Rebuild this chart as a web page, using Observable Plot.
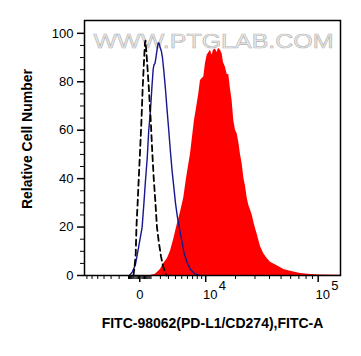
<!DOCTYPE html>
<html>
<head>
<meta charset="utf-8">
<script src="https://cdn.jsdelivr.net/npm/d3@7"></script>
<script src="https://cdn.jsdelivr.net/npm/@observablehq/plot@0.6"></script>
<style>
  html, body { margin: 0; padding: 0; background: #fff; }
  #chart { width: 361px; height: 356px; }
</style>
</head>
<body>
<div id="chart"></div>
<script>
// ---- Data ----
// Red filled histogram: FITC-98062 (PD-L1/CD274) stained sample
const redX = [948, 1456, 2010, 2403, 2872, 3276, 3743, 4256, 4783, 5341, 5823, 6193, 6578, 6976, 7390, 7817, 8327, 8718, 9192, 9510, 9937, 10376, 10802, 11267, 11747, 12122, 12719, 13242, 13654, 14304, 14876, 15323, 16035, 16658, 17263, 17922, 18603, 19262, 19984, 20727, 21446, 22234, 23043, 23930, 24687, 25573, 26430, 27369, 28336, 29691, 31348, 33489, 35750, 38228, 40776, 46432, 52679, 59814, 72142, 86830, 104323, 150000];
const redY = [0, 0.5, 2.5, 5, 7, 10, 15, 21, 26, 32, 40, 45, 50, 57, 64, 69, 75, 80.5, 81.5, 82, 87.5, 91, 92, 93, 91, 93, 93.5, 92, 93.8, 93, 91.5, 88, 86, 83, 83, 77, 72, 64, 60, 58.5, 55, 50, 46, 40, 37, 32, 29, 27, 25, 21, 17, 12, 9, 7, 5.5, 4, 2.5, 1.8, 0.8, 0.4, 0.2, 0.1];

// Blue line: unstained / blank sample
const blueX = [-909, -628, -360, -189, 57, 197, 351, 483, 637, 785, 948, 1096, 1217, 1299, 1403, 1509, 1617, 1749, 1839, 1952, 2127, 2245, 2428, 2615, 2833, 3044, 3276, 3513, 3773, 3996, 4302, 4620, 5032, 5376, 5914, 6578, 7390, 8487];
const blueY = [0, 1.5, 4.5, 9, 16, 20, 30, 39, 48, 60, 68, 78, 85, 87, 87.5, 90, 93, 96, 96, 94.5, 92.5, 90, 84, 77, 68, 60, 51, 43, 36, 30, 24, 19.5, 14, 9.5, 5.5, 2.5, 0.8, 0];

// Dashed black line: isotype control
const isoX = [-536, -447, -334, -274, -172, -81, 32, 139, 248, 351, 439, 483, 573, 664, 785, 977, 1116, 1278, 1456, 1617, 1816, 2068, 2306, 2552, 2743];
const isoY = [0, 3, 9, 20, 30, 40, 52, 64, 78, 88, 96, 97, 92, 86, 78, 64, 52, 40, 30, 20, 14, 8, 4, 1.5, 0];

// Axis ticks and labels
const yMajorTicks = [0, 20, 40, 60, 80, 100];
const yMinorTicks = [5, 10, 15, 25, 30, 35, 45, 50, 55, 65, 70, 75, 85, 90, 95];
const xMajorTicks = [0, 10000, 100000];
const xLabelBase = ["0", "10", "10"];
const xLabelExp = ["", "4", "5"];
const xMinorTicks = [-7000, -6000, -5000, -4000, -3000, -2000, -1000,
  -900, -800, -700, -600, -500, -400, -300, -200, -100,
  100, 200, 300, 400, 500, 600, 700, 800, 900,
  1000, 2000, 3000, 4000, 5000, 6000, 7000, 8000, 9000,
  20000, 30000, 40000, 50000, 60000, 70000, 80000, 90000];
const xTitle = "FITC-98062(PD-L1/CD274),FITC-A";
const yTitle = "Relative Cell Number";
const watermark = "WWW.PTGLAB.COM";

const idx = xMajorTicks.map((d, i) => i);

const chart = Plot.plot({
  width: 361,
  height: 356,
  marginLeft: 84,
  marginRight: 21,
  marginTop: 20,
  marginBottom: 81,
  style: { fontFamily: "'Liberation Sans', Arial, sans-serif", fontSize: "13px", background: "#fff", color: "#000" },
  x: { type: "symlog", constant: 4600, domain: [-7500, 150000], axis: null },
  y: { domain: [0, 105.3], axis: null },
  marks: [
    Plot.text([watermark], { frameAnchor: "top", dx: 1, dy: 13, fontSize: 20, fill: "#ececec", stroke: "#b4b4b4", strokeWidth: 0.6, className: "wm" }),
    Plot.areaY(redY, { x: redX, y: redY, fill: "#ff0000", curve: "linear" }),
    Plot.line(blueY, { x: blueX, y: blueY, stroke: "#16168e", strokeWidth: 1.4, curve: "linear" }),
    Plot.line(isoY, { x: isoX, y: isoY, stroke: "#000", strokeWidth: 1.8, strokeDasharray: "6,4", curve: "linear" }),
    Plot.frame({ stroke: "#000", strokeWidth: 1.5 }),
    Plot.axisY({ ticks: yMinorTicks, tickSize: 4, tickFormat: () => "", label: null, strokeWidth: 1 }),
    Plot.axisY({ ticks: yMajorTicks, tickSize: 7, tickPadding: 4, fontSize: 13, label: null, strokeWidth: 1.5 }),
    Plot.axisX({ ticks: xMinorTicks, tickSize: 4, tickFormat: () => "", label: null, strokeWidth: 1 }),
    Plot.axisX({ ticks: xMajorTicks, tickSize: 7, tickFormat: () => "", label: null, strokeWidth: 1.5 }),
    Plot.text(idx, { filter: i => xLabelExp[i] === "", x: i => xMajorTicks[i], text: i => xLabelBase[i], frameAnchor: "bottom", dy: 23, fontSize: 13 }),
    Plot.text(idx, { filter: i => xLabelExp[i] !== "", x: i => xMajorTicks[i], text: i => xLabelBase[i], frameAnchor: "bottom", dy: 23, dx: 4.5, fontSize: 13 }),
    Plot.text(idx, { filter: i => xLabelExp[i] !== "", x: i => xMajorTicks[i], text: i => xLabelExp[i], frameAnchor: "bottom", dy: 14, dx: 13, textAnchor: "start", fontSize: 13 }),
    Plot.text([xTitle], { frameAnchor: "bottom", dy: 52, fontWeight: "bold", fontSize: 14 }),
    Plot.text([yTitle], { frameAnchor: "left", textAnchor: "middle", rotate: -90, dx: -57, dy: -9, fontWeight: "bold", fontSize: 14 })
  ]
});

chart.querySelectorAll(".wm text").forEach(t => {
  t.setAttribute("textLength", 240);
  t.setAttribute("lengthAdjust", "spacingAndGlyphs");
  t.style.paintOrder = "normal";
});

document.getElementById("chart").appendChild(chart);
</script>
</body>
</html>
